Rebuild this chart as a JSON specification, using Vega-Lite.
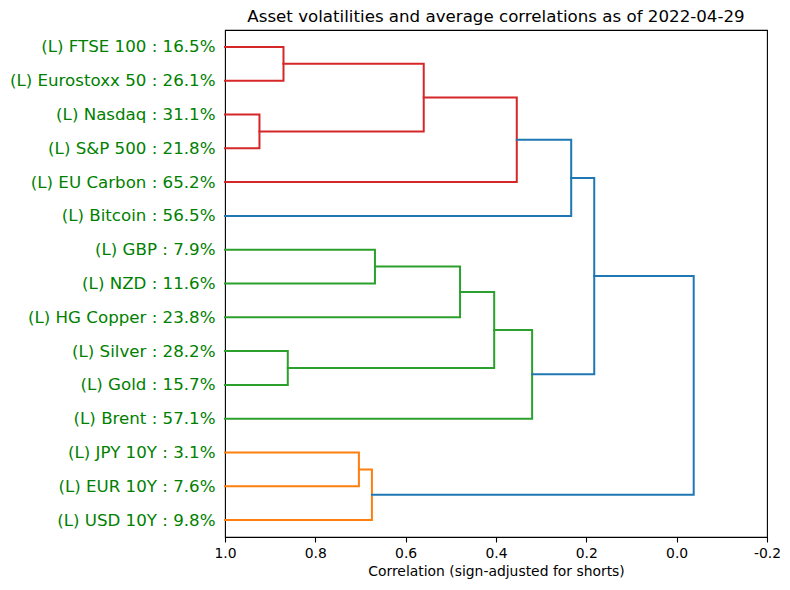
{
  "$schema": "https://vega.github.io/schema/vega-lite/v6.json",
  "width": 542,
  "height": 507,
  "autosize": {"type": "none"},
  "padding": {"left": 225, "top": 30, "right": 23, "bottom": 53},
  "background": "white",
  "title": {
    "text": "Asset volatilities and average correlations as of 2022-04-29",
    "font": "DejaVu Sans",
    "fontSize": 16.67,
    "fontWeight": "normal",
    "color": "#000000",
    "anchor": "middle",
    "offset": 4
  },
  "config": {
    "view": {"stroke": "#000000", "strokeWidth": 1.1},
    "axis": {"grid": false, "domain": false}
  },
  "data": {
    "values": [
      {"link": "A", "o": 1, "x": 1.0, "y": 5, "cluster": "red"},
      {"link": "A", "o": 2, "x": 0.8705, "y": 5, "cluster": "red"},
      {"link": "A", "o": 3, "x": 0.8705, "y": 15, "cluster": "red"},
      {"link": "A", "o": 4, "x": 1.0, "y": 15, "cluster": "red"},
      {"link": "B", "o": 1, "x": 1.0, "y": 25, "cluster": "red"},
      {"link": "B", "o": 2, "x": 0.9237, "y": 25, "cluster": "red"},
      {"link": "B", "o": 3, "x": 0.9237, "y": 35, "cluster": "red"},
      {"link": "B", "o": 4, "x": 1.0, "y": 35, "cluster": "red"},
      {"link": "C", "o": 1, "x": 0.8705, "y": 10, "cluster": "red"},
      {"link": "C", "o": 2, "x": 0.560, "y": 10, "cluster": "red"},
      {"link": "C", "o": 3, "x": 0.560, "y": 30, "cluster": "red"},
      {"link": "C", "o": 4, "x": 0.9237, "y": 30, "cluster": "red"},
      {"link": "D", "o": 1, "x": 0.560, "y": 20, "cluster": "red"},
      {"link": "D", "o": 2, "x": 0.354, "y": 20, "cluster": "red"},
      {"link": "D", "o": 3, "x": 0.354, "y": 45, "cluster": "red"},
      {"link": "D", "o": 4, "x": 1.0, "y": 45, "cluster": "red"},
      {"link": "E", "o": 1, "x": 0.354, "y": 32.5, "cluster": "blue"},
      {"link": "E", "o": 2, "x": 0.2335, "y": 32.5, "cluster": "blue"},
      {"link": "E", "o": 3, "x": 0.2335, "y": 55, "cluster": "blue"},
      {"link": "E", "o": 4, "x": 1.0, "y": 55, "cluster": "blue"},
      {"link": "F", "o": 1, "x": 1.0, "y": 65, "cluster": "green"},
      {"link": "F", "o": 2, "x": 0.668, "y": 65, "cluster": "green"},
      {"link": "F", "o": 3, "x": 0.668, "y": 75, "cluster": "green"},
      {"link": "F", "o": 4, "x": 1.0, "y": 75, "cluster": "green"},
      {"link": "G", "o": 1, "x": 0.668, "y": 70, "cluster": "green"},
      {"link": "G", "o": 2, "x": 0.4796, "y": 70, "cluster": "green"},
      {"link": "G", "o": 3, "x": 0.4796, "y": 85, "cluster": "green"},
      {"link": "G", "o": 4, "x": 1.0, "y": 85, "cluster": "green"},
      {"link": "H", "o": 1, "x": 1.0, "y": 95, "cluster": "green"},
      {"link": "H", "o": 2, "x": 0.861, "y": 95, "cluster": "green"},
      {"link": "H", "o": 3, "x": 0.861, "y": 105, "cluster": "green"},
      {"link": "H", "o": 4, "x": 1.0, "y": 105, "cluster": "green"},
      {"link": "I", "o": 1, "x": 0.4796, "y": 77.5, "cluster": "green"},
      {"link": "I", "o": 2, "x": 0.404, "y": 77.5, "cluster": "green"},
      {"link": "I", "o": 3, "x": 0.404, "y": 100, "cluster": "green"},
      {"link": "I", "o": 4, "x": 0.861, "y": 100, "cluster": "green"},
      {"link": "J", "o": 1, "x": 0.404, "y": 88.75, "cluster": "green"},
      {"link": "J", "o": 2, "x": 0.320, "y": 88.75, "cluster": "green"},
      {"link": "J", "o": 3, "x": 0.320, "y": 115, "cluster": "green"},
      {"link": "J", "o": 4, "x": 1.0, "y": 115, "cluster": "green"},
      {"link": "K", "o": 1, "x": 0.2335, "y": 43.75, "cluster": "blue"},
      {"link": "K", "o": 2, "x": 0.1825, "y": 43.75, "cluster": "blue"},
      {"link": "K", "o": 3, "x": 0.1825, "y": 101.875, "cluster": "blue"},
      {"link": "K", "o": 4, "x": 0.320, "y": 101.875, "cluster": "blue"},
      {"link": "L", "o": 1, "x": 1.0, "y": 125, "cluster": "orange"},
      {"link": "L", "o": 2, "x": 0.7035, "y": 125, "cluster": "orange"},
      {"link": "L", "o": 3, "x": 0.7035, "y": 135, "cluster": "orange"},
      {"link": "L", "o": 4, "x": 1.0, "y": 135, "cluster": "orange"},
      {"link": "M", "o": 1, "x": 0.7035, "y": 130, "cluster": "orange"},
      {"link": "M", "o": 2, "x": 0.6747, "y": 130, "cluster": "orange"},
      {"link": "M", "o": 3, "x": 0.6747, "y": 145, "cluster": "orange"},
      {"link": "M", "o": 4, "x": 1.0, "y": 145, "cluster": "orange"},
      {"link": "N", "o": 1, "x": 0.1825, "y": 72.8125, "cluster": "blue"},
      {"link": "N", "o": 2, "x": -0.0377, "y": 72.8125, "cluster": "blue"},
      {"link": "N", "o": 3, "x": -0.0377, "y": 137.5, "cluster": "blue"},
      {"link": "N", "o": 4, "x": 0.6747, "y": 137.5, "cluster": "blue"}
    ]
  },
  "mark": {"type": "line", "strokeWidth": 2, "strokeCap": "square", "strokeJoin": "miter"},
  "encoding": {
    "x": {
      "field": "x",
      "type": "quantitative",
      "scale": {"domain": [-0.2, 1.0], "reverse": true, "nice": false, "zero": false},
      "axis": {
        "title": "Correlation (sign-adjusted for shorts)",
        "titleFont": "DejaVu Sans",
        "titleFontSize": 13.9,
        "titleFontWeight": "normal",
        "titleColor": "#000000",
        "titlePadding": 5,
        "values": [1.0, 0.8, 0.6, 0.4, 0.2, 0.0, -0.2],
        "labelExpr": "replace(format(datum.value, '.1f'), '\u2212', '-')",
        "labelFont": "DejaVu Sans",
        "labelFontSize": 13.9,
        "labelColor": "#000000",
        "labelPadding": 4,
        "tickColor": "#000000",
        "tickSize": 5,
        "tickWidth": 1.1,
        "labelFlush": false
      }
    },
    "y": {
      "field": "y",
      "type": "quantitative",
      "scale": {"domain": [0, 150], "reverse": true, "nice": false, "zero": false},
      "axis": {
        "title": null,
        "values": [5, 15, 25, 35, 45, 55, 65, 75, 85, 95, 105, 115, 125, 135, 145],
        "labelExpr": "['(L) FTSE 100 : 16.5%', '(L) Eurostoxx 50 : 26.1%', '(L) Nasdaq : 31.1%', '(L) S&P 500 : 21.8%', '(L) EU Carbon : 65.2%', '(L) Bitcoin : 56.5%', '(L) GBP : 7.9%', '(L) NZD : 11.6%', '(L) HG Copper : 23.8%', '(L) Silver : 28.2%', '(L) Gold : 15.7%', '(L) Brent : 57.1%', '(L) JPY 10Y : 3.1%', '(L) EUR 10Y : 7.6%', '(L) USD 10Y : 9.8%'][round((datum.value - 5) / 10)]",
        "labelFont": "DejaVu Sans",
        "labelFontSize": 16.67,
        "labelColor": "#008000",
        "labelPadding": 10,
        "labelLimit": 400,
        "ticks": false,
        "labelFlush": false,
        "labelOverlap": false
      }
    },
    "color": {
      "field": "cluster",
      "type": "nominal",
      "scale": {"domain": ["red", "blue", "green", "orange"], "range": ["#d62728", "#1f77b4", "#2ca02c", "#ff7f0e"]},
      "legend": null
    },
    "detail": {"field": "link"},
    "order": {"field": "o"}
  }
}
